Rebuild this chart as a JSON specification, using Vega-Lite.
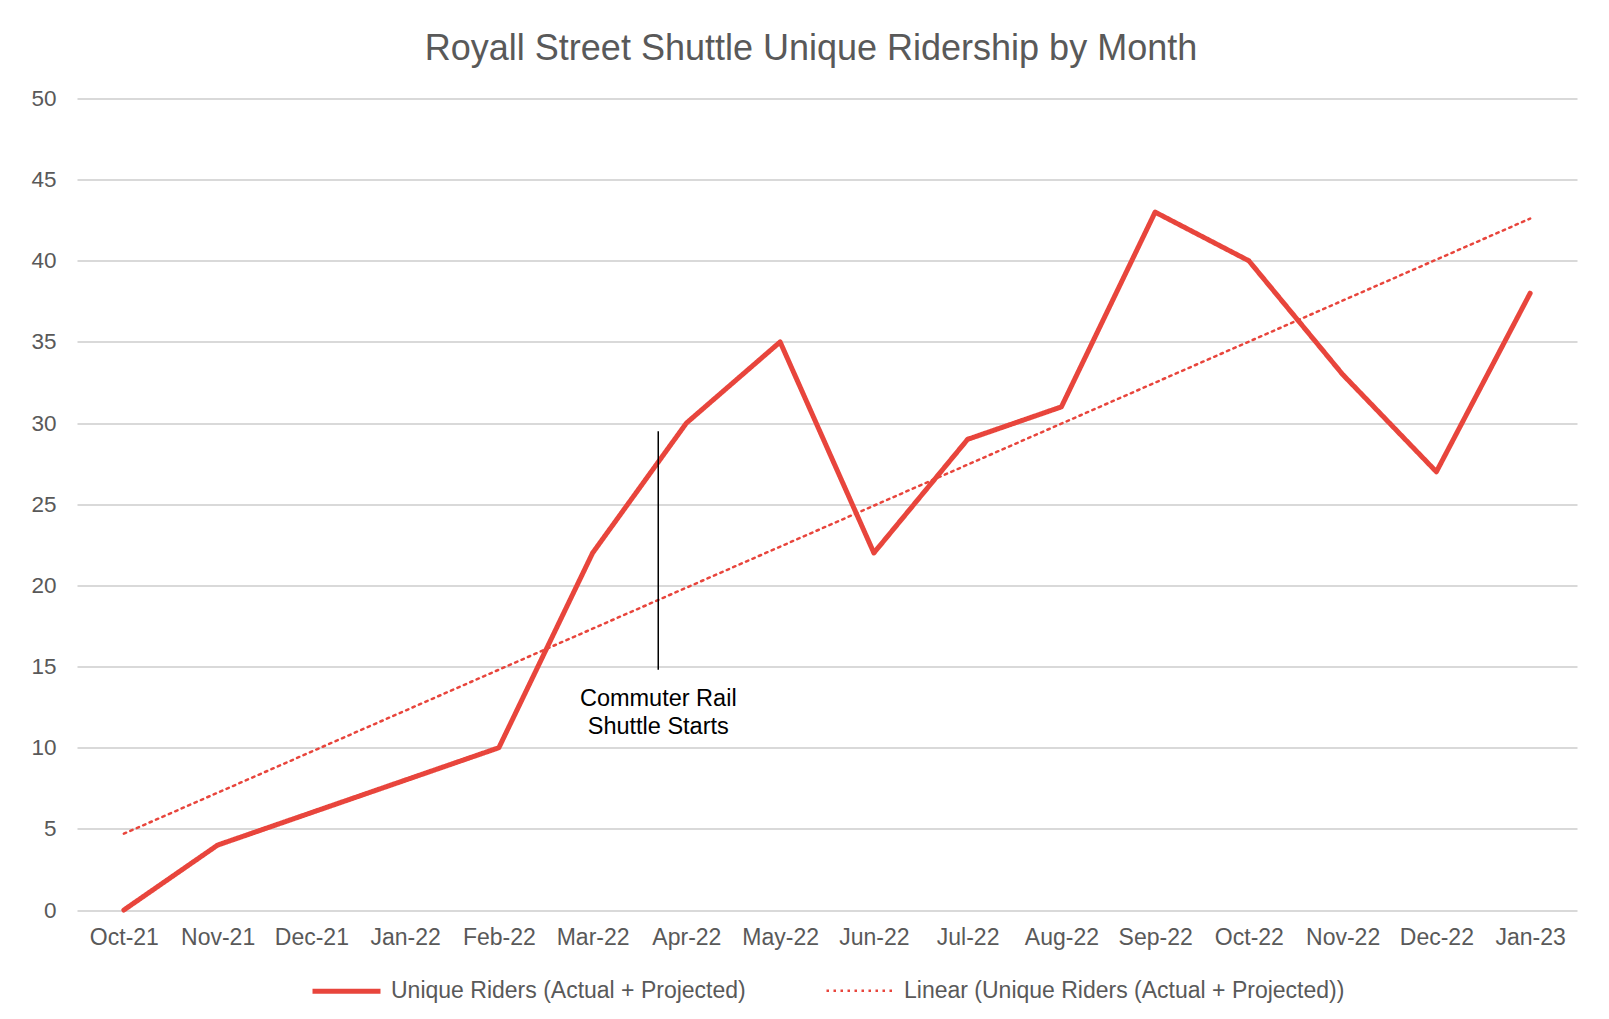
{
  "$schema": "https://vega.github.io/schema/vega-lite/v6.json",
  "width": 1500,
  "height": 811.5,
  "autosize": {"type": "none"},
  "padding": {"left": 77, "top": 98.5, "right": 32, "bottom": 109},
  "background": "white",
  "config": {
    "view": {"stroke": null},
    "font": "Liberation Sans",
    "legend": {
      "orient": "bottom",
      "direction": "horizontal",
      "title": null,
      "symbolType": "stroke",
      "symbolSize": 4624,
      "labelFontSize": 23,
      "labelColor": "#595959",
      "labelOffset": 8,
      "columnPadding": 75,
      "offset": 5,
      "labelLimit": 700,
      "layout": {"bottom": {"anchor": "middle"}}
    }
  },
  "title": {
    "text": "Royall Street Shuttle Unique Ridership by Month",
    "fontSize": 36,
    "font": "Liberation Sans",
    "fontWeight": "normal",
    "color": "#595959",
    "anchor": "middle",
    "baseline": "bottom",
    "offset": -16,
    "dx": -16
  },
  "datasets": {
    "series": [
      {"m": 0, "month": "Oct-21", "series": "Unique Riders (Actual + Projected)", "riders": 0},
      {"m": 1, "month": "Nov-21", "series": "Unique Riders (Actual + Projected)", "riders": 4},
      {"m": 2, "month": "Dec-21", "series": "Unique Riders (Actual + Projected)", "riders": 6},
      {"m": 3, "month": "Jan-22", "series": "Unique Riders (Actual + Projected)", "riders": 8},
      {"m": 4, "month": "Feb-22", "series": "Unique Riders (Actual + Projected)", "riders": 10},
      {"m": 5, "month": "Mar-22", "series": "Unique Riders (Actual + Projected)", "riders": 22},
      {"m": 6, "month": "Apr-22", "series": "Unique Riders (Actual + Projected)", "riders": 30},
      {"m": 7, "month": "May-22", "series": "Unique Riders (Actual + Projected)", "riders": 35},
      {"m": 8, "month": "Jun-22", "series": "Unique Riders (Actual + Projected)", "riders": 22},
      {"m": 9, "month": "Jul-22", "series": "Unique Riders (Actual + Projected)", "riders": 29},
      {"m": 10, "month": "Aug-22", "series": "Unique Riders (Actual + Projected)", "riders": 31},
      {"m": 11, "month": "Sep-22", "series": "Unique Riders (Actual + Projected)", "riders": 43},
      {"m": 12, "month": "Oct-22", "series": "Unique Riders (Actual + Projected)", "riders": 40},
      {"m": 13, "month": "Nov-22", "series": "Unique Riders (Actual + Projected)", "riders": 33},
      {"m": 14, "month": "Dec-22", "series": "Unique Riders (Actual + Projected)", "riders": 27},
      {"m": 15, "month": "Jan-23", "series": "Unique Riders (Actual + Projected)", "riders": 38},
      {"m": 0, "month": "Oct-21", "series": "Linear (Unique Riders (Actual + Projected))", "riders": 4.7},
      {"m": 15, "month": "Jan-23", "series": "Linear (Unique Riders (Actual + Projected))", "riders": 42.6}
    ],
    "note_line": [
      {"m": 5.7, "top": 29.5, "bottom": 14.8}
    ],
    "note_text": [
      {"m": 5.7, "v": 13.0, "text": "Commuter Rail"},
      {"m": 5.7, "v": 11.25, "text": "Shuttle Starts"}
    ]
  },
  "layer": [
    {
      "data": {"name": "series"},
      "mark": {"type": "line", "strokeCap": "round", "strokeJoin": "round"},
      "encoding": {
        "x": {
          "field": "m",
          "type": "quantitative",
          "scale": {"domain": [-0.5, 15.5], "nice": false, "zero": false},
          "axis": {
            "title": null,
            "values": [0, 1, 2, 3, 4, 5, 6, 7, 8, 9, 10, 11, 12, 13, 14, 15],
            "labelExpr": "['Oct-21','Nov-21','Dec-21','Jan-22','Feb-22','Mar-22','Apr-22','May-22','Jun-22','Jul-22','Aug-22','Sep-22','Oct-22','Nov-22','Dec-22','Jan-23'][datum.value]",
            "grid": false,
            "domain": false,
            "ticks": false,
            "labelFontSize": 23,
            "labelColor": "#595959",
            "labelPadding": 16,
            "labelFlush": false,
            "labelOverlap": false
          }
        },
        "y": {
          "field": "riders",
          "type": "quantitative",
          "scale": {"domain": [0, 50], "nice": false},
          "axis": {
            "title": null,
            "values": [0, 5, 10, 15, 20, 25, 30, 35, 40, 45, 50],
            "grid": true,
            "gridColor": "#D9D9D9",
            "gridWidth": 2,
            "domain": false,
            "ticks": false,
            "labelFontSize": 22.5,
            "labelColor": "#595959",
            "labelPadding": 21
          }
        },
        "color": {
          "field": "series",
          "type": "nominal",
          "scale": {
            "domain": ["Unique Riders (Actual + Projected)", "Linear (Unique Riders (Actual + Projected))"],
            "range": ["#E8453C", "#E8453C"]
          }
        },
        "strokeDash": {
          "field": "series",
          "type": "nominal",
          "scale": {
            "domain": ["Unique Riders (Actual + Projected)", "Linear (Unique Riders (Actual + Projected))"],
            "range": [[1, 0], [2.5, 4.5]]
          }
        },
        "strokeWidth": {
          "field": "series",
          "type": "nominal",
          "scale": {
            "domain": ["Unique Riders (Actual + Projected)", "Linear (Unique Riders (Actual + Projected))"],
            "range": [5, 2.5]
          }
        }
      }
    },
    {
      "data": {"name": "note_line"},
      "mark": {"type": "rule", "color": "black", "strokeWidth": 1.5},
      "encoding": {
        "x": {"field": "m", "type": "quantitative", "axis": {"title": null}},
        "y": {"field": "top", "type": "quantitative", "axis": {"title": null}},
        "y2": {"field": "bottom"}
      }
    },
    {
      "data": {"name": "note_text"},
      "mark": {"type": "text", "fontSize": 23.5, "color": "black", "align": "center", "baseline": "middle", "font": "Liberation Sans"},
      "encoding": {
        "x": {"field": "m", "type": "quantitative", "axis": {"title": null}},
        "y": {"field": "v", "type": "quantitative", "axis": {"title": null}},
        "text": {"field": "text", "type": "nominal"}
      }
    }
  ]
}
